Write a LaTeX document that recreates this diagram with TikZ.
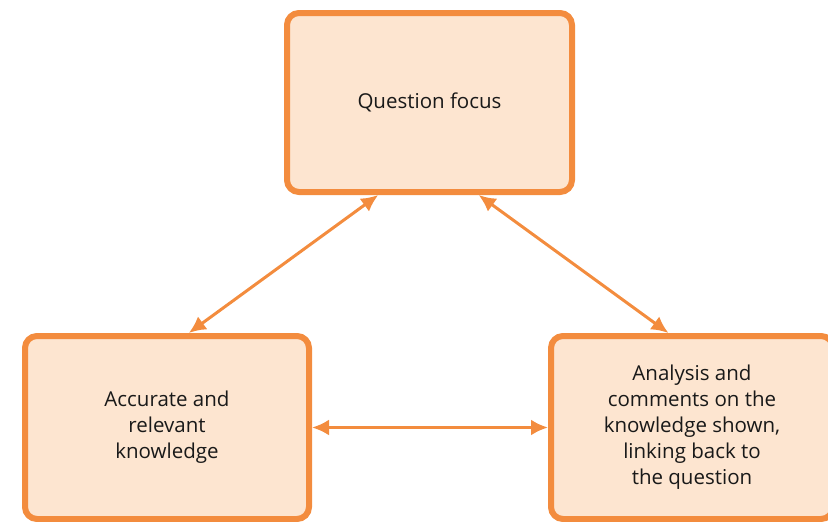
\documentclass[tikz,border=0pt]{standalone}
\usepackage{fontspec}
\setmainfont{Open Sans}
\usetikzlibrary{arrows.meta,shadows}
\definecolor{focusorange}{RGB}{243,140,62}
\definecolor{focuspeach}{RGB}{253,229,208}

\begin{document}
\begin{tikzpicture}[x=1pt, y=-1pt]
    % Define styles
    \tikzstyle{block} = [rectangle, draw=focusorange, line width=6pt, fill=focuspeach, rounded corners=12pt, minimum width=285pt, minimum height=179pt, align=center, text=black!90, font=\fontsize{20.5}{26}\selectfont, drop shadow={shadow xshift=1pt, shadow yshift=-2pt, opacity=0.35}]
    \tikzstyle{line} = [draw=focusorange, line width=3pt, {Latex[length=17pt,width=16pt]}-{Latex[length=17pt,width=16pt]}]

    \useasboundingbox (0,0) rectangle (828,522);

    % Nodes
    \node [block] (focus) at (429.5,102.5) {Question focus};
    \node [block, minimum width=284pt, minimum height=183pt] (knowledge) at (167,427.5) {Accurate and\\relevant\\knowledge};
    \node [block, minimum width=282pt, minimum height=183pt] (analysis) at (692,427.5) {Analysis and\\comments on the\\knowledge shown,\\linking back to\\the question};

    % Connections
    \path [line] (focus.241) -- (knowledge.77);
    \path [line] (focus.298) -- (analysis.104);
    \path [line] (knowledge) -- (analysis);
\end{tikzpicture}
\end{document}
